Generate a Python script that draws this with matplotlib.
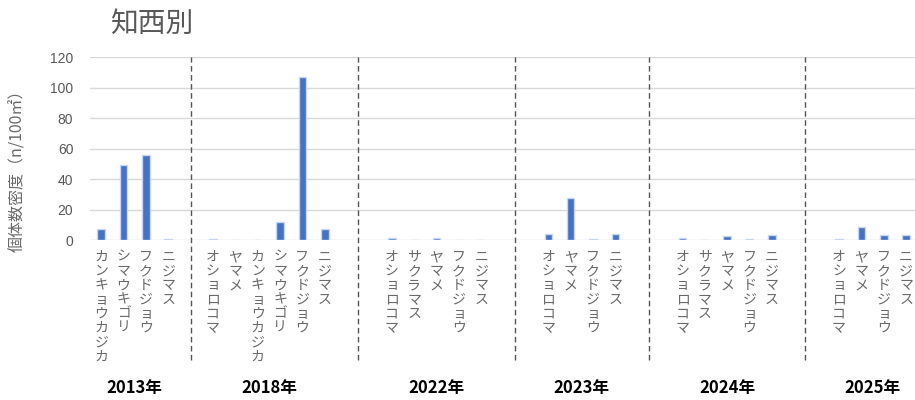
import matplotlib.pyplot as plt
import numpy as np

plt.rcParams['font.family'] = ['Noto Sans CJK JP', 'DejaVu Sans']

# data
years = ['2013年', '2018年', '2022年', '2023年', '2024年', '2025年']
species = [
    ['カンキョウカジカ', 'シマウキゴリ', 'フクドジョウ', 'ニジマス'],
    ['オショロコマ', 'ヤマメ', 'カンキョウカジカ', 'シマウキゴリ', 'フクドジョウ', 'ニジマス'],
    ['オショロコマ', 'サクラマス', 'ヤマメ', 'フクドジョウ', 'ニジマス'],
    ['オショロコマ', 'ヤマメ', 'フクドジョウ', 'ニジマス'],
    ['オショロコマ', 'サクラマス', 'ヤマメ', 'フクドジョウ', 'ニジマス'],
    ['オショロコマ', 'ヤマメ', 'フクドジョウ', 'ニジマス'],
]
density = [
    [7.4, 49.2, 55.6, 0.8],
    [0.8, 0.0, 0.0, 11.6, 106.8, 7.0],
    [1.3, 0.0, 1.3, 0.0, 0.0],
    [4.2, 27.8, 0.6, 4.2],
    [1.3, 0.0, 2.6, 0.6, 3.1],
    [0.6, 8.5, 3.1, 3.5],
]
# empty category slots after each year group
gaps = [1, 2, 2, 2, 2]

# positions
xs, labels, vals, centers, starts, ends = [], [], [], [], [], []
pos = 0
for i, sp in enumerate(species):
    p = np.arange(pos, pos + len(sp))
    xs.extend(p)
    labels.extend(sp)
    vals.extend(density[i])
    centers.append(p.mean())
    starts.append(p[0])
    ends.append(p[-1])
    pos = p[-1] + 1 + (gaps[i] if i < len(gaps) else 0)

fig = plt.figure(figsize=(9.15, 4.0), dpi=100)
ax = fig.add_axes([90 / 915, 0.4, 1 - 90 / 915, (240 - 57.3) / 400])

ax.bar(xs, vals, width=0.34, color='#4472C4', edgecolor='#c9d6ef', linewidth=1.0, zorder=3)

ax.set_ylim(0, 120)
ax.set_xlim(-0.5, 36.4)
ax.set_yticks(np.arange(0, 121, 20))
ax.yaxis.grid(True, color='#d9d9d9', linewidth=1.0, zorder=0)
for s in ax.spines.values():
    s.set_visible(False)
ax.tick_params(axis='y', length=0, pad=12, labelsize=10, labelcolor='#595959')
for t in ax.get_yticklabels():
    t.set_family(['Liberation Sans', 'DejaVu Sans'])
ax.set_xticks([])

# vertical category labels
for x, lab in zip(xs, labels):
    ax.text(x, -6.5, '\n'.join(lab), ha='center', va='top', fontsize=10,
            color='#6a6a6a', linespacing=1.02, clip_on=False)

# dashed separators between year groups
for i in range(len(years) - 1):
    xm = (ends[i] + starts[i + 1]) / 2
    ax.axvline(xm, ymin=-0.657, ymax=1.0, color='#555555', linestyle=(0, (4, 2.5)),
               linewidth=1.0, clip_on=False, zorder=4)

# year labels
for c, y in zip(centers, years):
    ax.text(c, -97, y, ha='center', va='center', fontsize=12, fontweight='bold',
            color='black', clip_on=False)

fig.text(110 / 915, 1 - 24 / 400, '知西別', fontsize=20, color='#595959', ha='left', va='center')
fig.text(18 / 915, 1 - 167 / 400, '個体数密度（n/100㎡）', rotation=90, fontsize=11.5,
         color='#6a6a6a', ha='center', va='center')

fig.savefig('out.png', dpi=100)
